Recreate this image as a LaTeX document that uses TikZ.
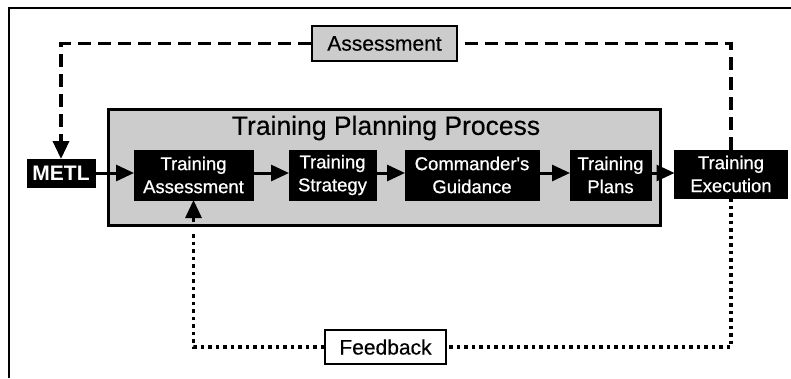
\documentclass[tikz,border=0pt]{standalone}
\usepackage{fontspec}
\setmainfont{Liberation Sans}
\newfontfamily\medfont[FakeBold=0.7]{Liberation Sans}
\newfontfamily\lblfont[FakeBold=0.4]{Liberation Sans}
\usetikzlibrary{arrows.meta}
\definecolor{boxgray}{HTML}{CCCCCC}
\begin{document}
\begin{tikzpicture}[x=1pt,y=-1pt,
 blk/.style={draw=black,fill=black,text=white,align=center,font=\medfont\fontsize{18.5}{23}\selectfont,inner sep=0pt,line width=0pt},
 lbl/.style={draw=black,line width=2pt,align=center,font=\lblfont\fontsize{21}{25}\selectfont,inner sep=0pt},
 conn/.style={line width=3pt,-{Triangle[length=18pt,width=16pt]}},
 dsh/.style={line width=3.5pt,dash pattern=on 13pt off 7pt},
 dot/.style={line width=3.5pt,dash pattern=on 3.5pt off 4pt}]
\useasboundingbox (0,0) rectangle (791,378);
\fill[white] (0,0) rectangle (791,378);
\draw[line width=2pt] (9,378) -- (9,8) -- (791,8);
% process box
\node[draw=black,line width=3pt,fill=boxgray,minimum width=552pt,minimum height=116pt,inner sep=0pt] (proc) at (384.5,167.5) {};
\node[font=\lblfont\fontsize{26.5}{30}\selectfont,inner sep=0pt] (ptitle) at (386,128) {Training Planning Process};
% blocks
\node[blk,minimum width=119pt,minimum height=50pt] (ta) at (193.5,175) {Training\\Assessment};
\node[blk,minimum width=87pt,minimum height=50pt] (ts) at (332.5,175) {Training\\Strategy};
\node[blk,minimum width=134pt,minimum height=50pt] (cg) at (472,175) {Commander's\\Guidance};
\node[blk,minimum width=81pt,minimum height=50pt] (tp) at (610.5,175) {Training\\Plans};
\node[blk,minimum width=113pt,minimum height=48pt] (te) at (731,174) {Training\\Execution};
\node[blk,minimum width=68pt,minimum height=28pt,font=\fontsize{21}{25}\selectfont\bfseries] (metl) at (61,173) {METL};
\node[lbl,fill=boxgray,minimum width=145pt,minimum height=35pt] (assess) at (384.5,43.5) {Assessment};
\node[lbl,fill=white,minimum width=121pt,minimum height=34pt] (fb) at (385.5,347) {Feedback};
% solid connectors
\draw[conn] (metl.east) -- (metl.east -| ta.west);
\draw[conn] (ta.east |- 0,173) -- (ts.west |- 0,173);
\draw[conn] (ts.east |- 0,173) -- (cg.west |- 0,173);
\draw[conn] (cg.east |- 0,173) -- (tp.west |- 0,173);
\draw[conn] (tp.east |- 0,173) -- (te.west |- 0,173);
% dashed assessment loop
\draw[dsh] (te.north) -- (te.north |- assess.center) -- (assess.east);
\draw[dsh,-{Triangle[length=18pt,width=16pt]}] (assess.west) -- (assess.west -| metl.north) -- (metl.north);
% dotted feedback loop
\coordinate (fbstart) at (193.5,231);
\coordinate (fbin) at (193.5,222);
\draw[dot] (te.south) -- (te.south |- fb.east) -- (fb.east);
\draw[dot] (fb.west) -- (fb.west -| fbstart) -- (fbstart);
\draw[conn] (fbin) -- (ta.south);
\end{tikzpicture}
\end{document}
